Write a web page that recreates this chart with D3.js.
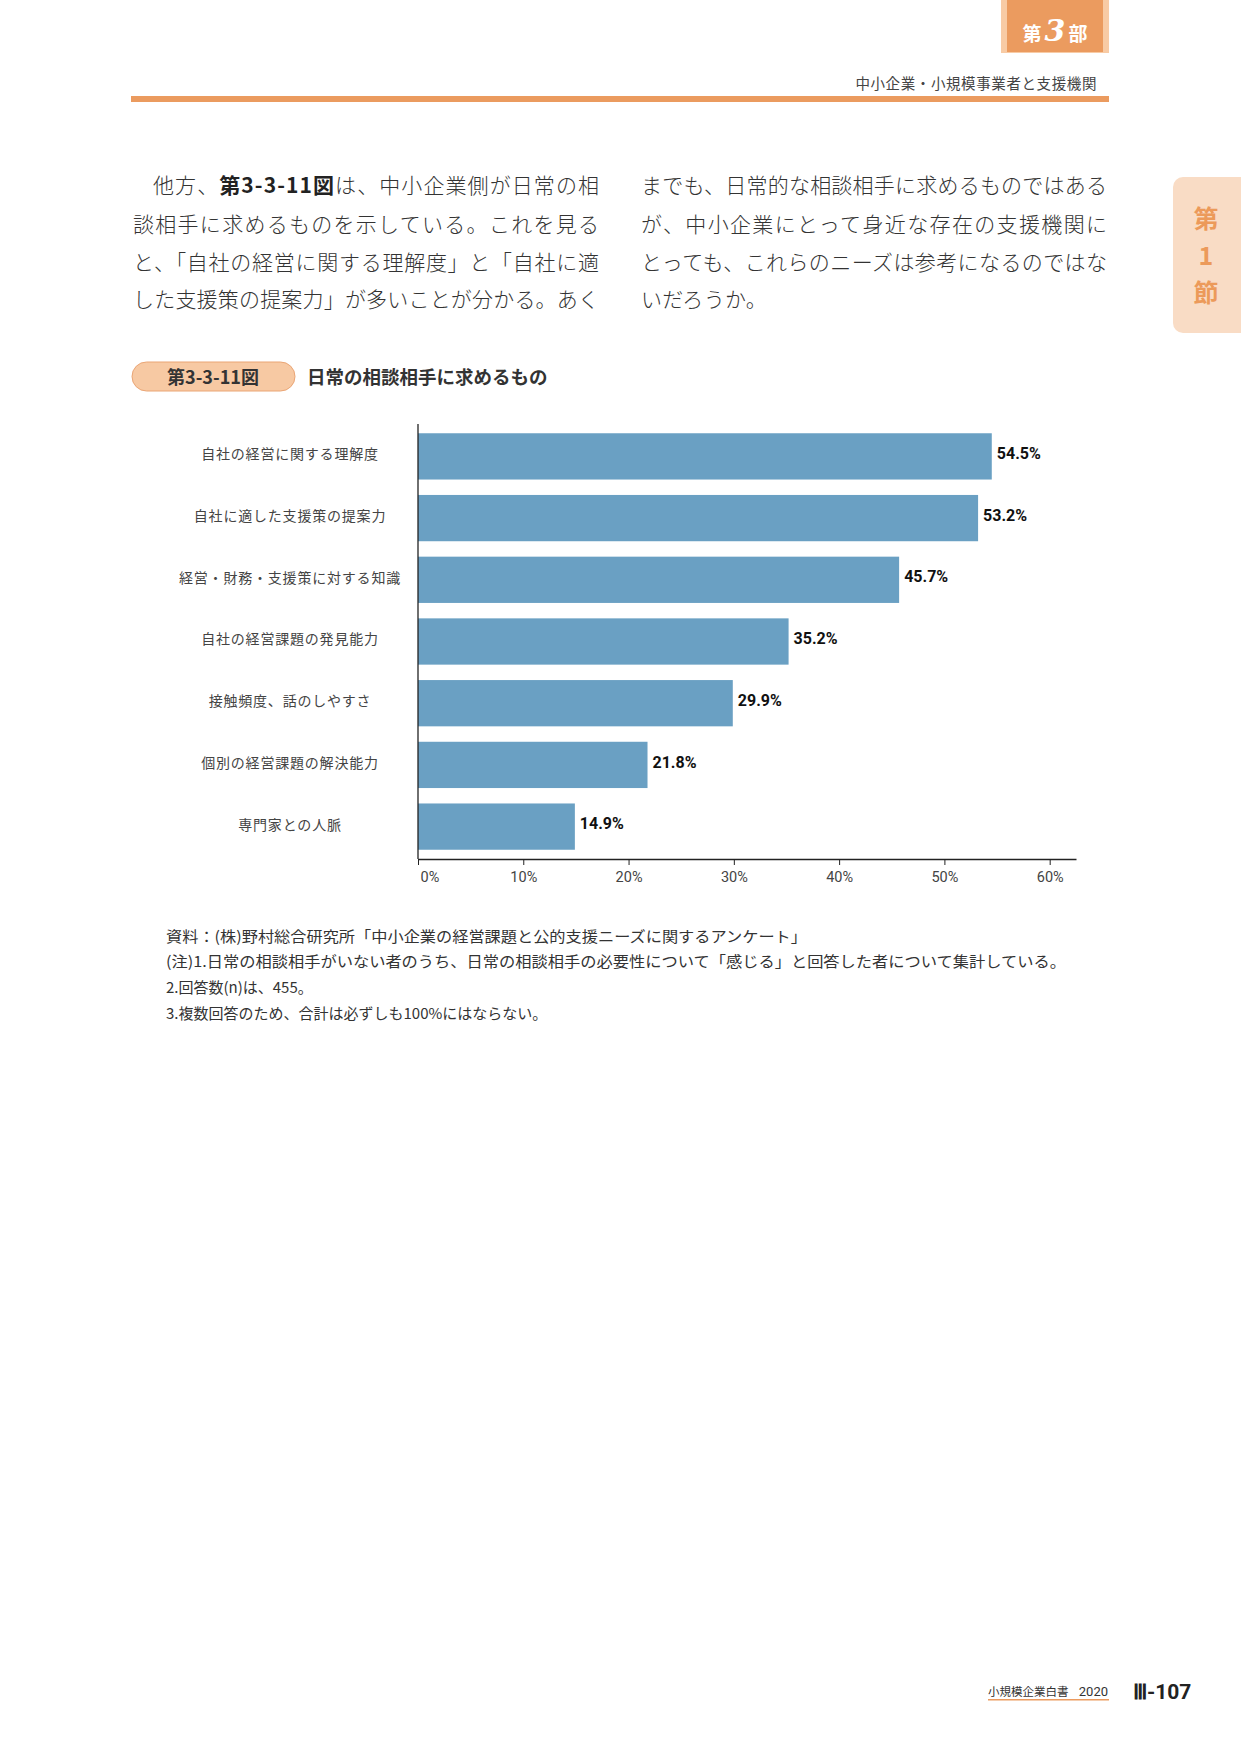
<!DOCTYPE html>
<html>
<head>
<meta charset="utf-8">
<script src="https://cdn.jsdelivr.net/npm/d3@7"></script>
<style>
  html, body { margin: 0; padding: 0; background: #fff; }
  svg { display: block; }
</style>
</head>
<body>
<svg id="page" width="1241" height="1754"></svg>
<script>
// chart data
const categories = [
  "自社の経営に関する理解度",
  "自社に適した支援策の提案力",
  "経営・財務・支援策に対する知識",
  "自社の経営課題の発見能力",
  "接触頻度、話のしやすさ",
  "個別の経営課題の解決能力",
  "専門家との人脈"
]
const values = [54.5, 53.2, 45.7, 35.2, 29.9, 21.8, 14.9]
const xTicks = [0, 10, 20, 30, 40, 50, 60]

// page text
const leftLines = [
  [["他方、", false], ["第3-3-11図", true], ["は、中小企業側が日常の相", false]],
  [["談相手に求めるものを示している。これを見る", false]],
  [["と、「自社の経営に関する理解度」と「自社に適", false]],
  [["した支援策の提案力」が多いことが分かる。あく", false]]
]
const rightLines = [
  "までも、日常的な相談相手に求めるものではある",
  "が、中小企業にとって身近な存在の支援機関に",
  "とっても、これらのニーズは参考になるのではな",
  "いだろうか。"
]
const notes = [
  "資料：(株)野村総合研究所「中小企業の経営課題と公的支援ニーズに関するアンケート」",
  "(注)1.日常の相談相手がいない者のうち、日常の相談相手の必要性について「感じる」と回答した者について集計している。",
  "2.回答数(n)は、455。",
  "3.複数回答のため、合計は必ずしも100%にはならない。"
]
const figNo = "第3-3-11図"
const figTitle = "日常の相談相手に求めるもの"

const JP = "'Noto Sans CJK JP', 'Noto Sans', sans-serif"
const NUM = "Roboto, 'Liberation Sans', sans-serif"
const orange = "#eb9b5f"

const svg = d3.select("#page")
svg.append("rect").attr("width", 1241).attr("height", 1754).attr("fill", "#fff")

// header tab "第3部"
svg.append("rect")
  .attr("x", 1001).attr("y", 0).attr("width", 108).attr("height", 53)
  .attr("fill", "#f8cba5")
svg.append("rect")
  .attr("x", 1007).attr("y", 0).attr("width", 96).attr("height", 52)
  .attr("fill", orange)
const partText = svg.append("text")
  .attr("x", 1055).attr("y", 41)
  .attr("text-anchor", "middle")
  .attr("fill", "#fff")
partText.append("tspan").text("第")
  .attr("font-family", JP).attr("font-weight", "bold").attr("font-size", 19)
partText.append("tspan").text("3")
  .attr("dx", 3)
  .attr("font-family", "'DejaVu Serif', 'Liberation Serif', serif")
  .attr("font-style", "italic").attr("font-weight", "bold").attr("font-size", 30)
partText.append("tspan").text("部")
  .attr("dx", 3)
  .attr("font-family", JP).attr("font-weight", "bold").attr("font-size", 19)

svg.append("text")
  .attr("x", 1097).attr("y", 89)
  .attr("text-anchor", "end")
  .attr("font-family", JP).attr("font-size", 14.5)
  .attr("letter-spacing", 0.6)
  .attr("fill", "#444")
  .text("中小企業・小規模事業者と支援機関")
svg.append("rect")
  .attr("x", 131).attr("y", 96).attr("width", 978).attr("height", 6)
  .attr("fill", orange)

// side tab "第1節"
svg.append("rect")
  .attr("x", 1173).attr("y", 177).attr("width", 90).attr("height", 156)
  .attr("rx", 10)
  .attr("fill", "#f9dcc5")
;["第", "1", "節"].forEach((c, i) => {
  svg.append("text")
    .attr("x", 1206).attr("y", 228 + i * 37)
    .attr("text-anchor", "middle")
    .attr("font-family", JP).attr("font-weight", "bold").attr("font-size", 25)
    .attr("fill", "#ec9a5a")
    .text(c)
})

// body text
const lineY = [193, 232, 270, 307]
leftLines.forEach((runs, i) => {
  const x0 = i == 0 ? 153 : 133
  const t = svg.append("text")
    .attr("x", x0).attr("y", lineY[i])
    .attr("font-family", JP).attr("font-size", 21).attr("font-weight", 300)
    .attr("fill", "#333")
    .attr("textLength", 599 - x0)
    .attr("lengthAdjust", "spacing")
  runs.forEach(r => {
    t.append("tspan").text(r[0])
      .attr("font-weight", r[1] ? "bold" : 300)
      .attr("fill", r[1] ? "#222" : "#333")
  })
})
rightLines.forEach((s, i) => {
  const t = svg.append("text")
    .attr("x", 641).attr("y", lineY[i])
    .attr("font-family", JP).attr("font-size", 21).attr("font-weight", 300)
    .attr("fill", "#333")
    .text(s)
  if (i < rightLines.length - 1) {
    t.attr("textLength", 466).attr("lengthAdjust", "spacing")
  } else {
    t.attr("letter-spacing", 0.3)
  }
})

// figure label
svg.append("rect")
  .attr("x", 132).attr("y", 362).attr("width", 163).attr("height", 29)
  .attr("rx", 14.5)
  .attr("fill", "#f7c9a3").attr("stroke", "#eaa575").attr("stroke-width", 1)
svg.append("text")
  .attr("x", 213).attr("y", 384)
  .attr("text-anchor", "middle")
  .attr("font-family", JP).attr("font-weight", "bold").attr("font-size", 18)
  .attr("fill", "#333")
  .text(figNo)
svg.append("text")
  .attr("x", 307).attr("y", 384)
  .attr("font-family", JP).attr("font-weight", "bold").attr("font-size", 18.5)
  .attr("fill", "#333")
  .text(figTitle)

// chart
const x = d3.scaleLinear().domain([0, 62.5]).range([418, 1076])
const y = d3.scaleBand().domain(categories).range([424, 859])
  .paddingInner(0.25).paddingOuter(0.15)

const chart = svg.append("g")

chart.selectAll("rect.bar")
  .data(values).enter()
  .append("rect")
  .attr("class", "bar")
  .attr("x", x(0))
  .attr("y", (d, i) => y(categories[i]))
  .attr("width", d => x(d) - x(0))
  .attr("height", y.bandwidth())
  .attr("fill", "#6aa0c3")

chart.selectAll("text.val")
  .data(values).enter()
  .append("text")
  .attr("class", "val")
  .attr("x", d => x(d) + 5)
  .attr("y", (d, i) => y(categories[i]) + y.bandwidth() / 2 - 3)
  .attr("dy", "0.35em")
  .attr("font-family", NUM).attr("font-weight", "bold").attr("font-size", 16)
  .attr("fill", "#111")
  .text(d => d.toFixed(1) + "%")

chart.selectAll("text.cat")
  .data(categories).enter()
  .append("text")
  .attr("class", "cat")
  .attr("x", 290)
  .attr("y", d => y(d) + y.bandwidth() / 2 - 2)
  .attr("dy", "0.35em")
  .attr("text-anchor", "middle")
  .attr("font-family", JP).attr("font-size", 14)
  .attr("letter-spacing", 0.8)
  .attr("fill", "#444")
  .text(d => d)

// axes
const xAxis = chart.append("g")
  .attr("transform", "translate(0,859)")
  .call(d3.axisBottom(x).tickValues(xTicks).tickFormat(d => d + "%")
    .tickSize(6).tickSizeOuter(0))
xAxis.select(".domain").attr("stroke", "#222").attr("stroke-width", 1.3)
xAxis.selectAll(".tick line").attr("stroke", "#222")
xAxis.selectAll(".tick text")
  .attr("font-family", NUM).attr("font-size", 14.5)
  .attr("fill", "#444")
  .attr("y", 13)
xAxis.selectAll(".tick text").filter(d => d == 0)
  .attr("text-anchor", "start").attr("dx", 2)

chart.append("line")
  .attr("x1", x(0)).attr("x2", x(0))
  .attr("y1", 424).attr("y2", 859)
  .attr("stroke", "#222").attr("stroke-width", 1.3)

// notes
const noteY = [942, 967, 993, 1019]
const noteLen = [641, 900, null, null]
notes.forEach((s, i) => {
  const t = svg.append("text")
    .attr("x", 166).attr("y", noteY[i])
    .attr("font-family", JP).attr("font-size", 15)
    .attr("fill", "#333")
    .text(s)
  if (noteLen[i]) t.attr("textLength", noteLen[i]).attr("lengthAdjust", "spacingAndGlyphs")
})

// footer
svg.append("text")
  .attr("x", 988).attr("y", 1696)
  .attr("font-family", JP).attr("font-size", 11.5)
  .attr("fill", "#333")
  .text("小規模企業白書")
svg.append("text")
  .attr("x", 1108).attr("y", 1696)
  .attr("text-anchor", "end")
  .attr("font-family", NUM).attr("font-size", 13)
  .attr("fill", "#333")
  .text("2020")
svg.append("rect")
  .attr("x", 988).attr("y", 1699).attr("width", 121).attr("height", 1.5)
  .attr("fill", orange)
svg.append("text")
  .attr("x", 1133).attr("y", 1699)
  .attr("font-family", NUM).attr("font-weight", "bold").attr("font-size", 21)
  .attr("fill", "#222")
  .text("Ⅲ-107")
</script>
</body>
</html>
